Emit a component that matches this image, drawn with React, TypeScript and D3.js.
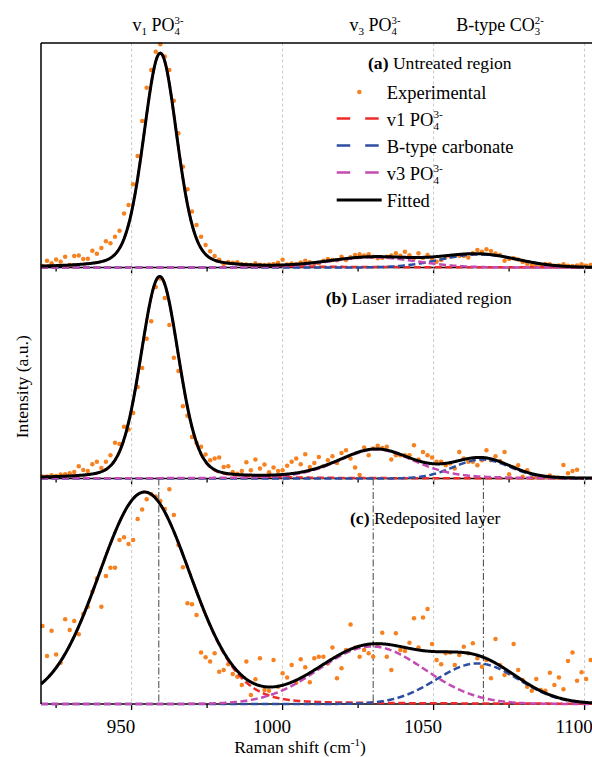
import React from 'react';
import * as d3 from 'd3';

// ---------- DATA ----------
// Raman shift grid of the experimental spectra (cm^-1)
const WAVE_START = 920.5;
const WAVE_STEP = 1.5;

const xTicks = [925, 950, 975, 1000, 1025, 1050, 1075, 1100];
const xTickLabels = [950, 1000, 1050, 1100];
const markerLines = [959, 1030, 1066.5];

// Experimental intensities (a.u., 0-100 of each panel)
const expA = [
  0.7, 3.0, 1.9, 3.6, 2.6, 4.8, 1.1, 5.1, 5.4, 3.8, 3.9, 7.5, 6.1, 8.7, 11.7, 10.8, 13.7, 16.4, 24.1, 27.8,
  37.1, 49.7, 65.3, 80.1, 88.0, 96.1, 99.4, 94.0, 88.0, 74.3, 59.8, 44.9, 34.8, 24.9, 18.9, 13.7, 10.0, 7.2, 5.1, 3.4,
  1.6, 2.5, 2.1, 2.3, 1.5, 1.3, 1.1, 1.9, 1.2, 1.1, 1.3, 1.6, 2.1, 3.4, 1.3, 1.8, 1.5, 2.2, 3.0, 2.3,
  1.8, 1.9, 3.0, 3.8, 3.3, 3.2, 4.8, 3.3, 4.6, 5.6, 5.9, 5.4, 5.9, 4.8, 4.1, 4.3, 4.8, 5.3, 6.3, 5.2,
  7.0, 5.5, 4.1, 6.3, 4.2, 5.6, 4.0, 2.6, 3.3, 4.8, 5.0, 5.1, 5.2, 5.1, 4.5, 6.3, 7.8, 7.0, 8.1, 7.3,
  6.2, 5.6, 3.0, 3.8, 4.1, 3.6, 2.4, 1.6, 1.2, 1.0, 0.9, 1.6, 1.4, 0.8, 0.9, 1.4, 0.8, 0.7, 0.9, 1.4,
  0.8, 1.1,
];
const expB = [
  1.0, 1.0, 1.5, 1.2, 1.9, 2.0, 2.5, 3.1, 5.8, 4.0, 3.6, 6.8, 7.9, 5.0, 7.9, 11.0, 16.9, 16.3, 24.5, 23.2,
  31.1, 43.4, 52.4, 66.2, 74.5, 90.8, 94.8, 85.6, 72.7, 57.2, 50.9, 34.3, 29.7, 19.7, 17.0, 15.0, 11.4, 8.7, 9.5, 10.0,
  5.5, 5.8, 3.1, 2.2, 3.5, 7.7, 3.9, 9.0, 4.7, 6.6, 3.0, 5.2, 3.6, 3.9, 6.0, 7.9, 9.5, 6.8, 11.5, 5.5,
  7.4, 10.2, 5.8, 8.7, 10.6, 7.4, 12.1, 13.4, 9.5, 5.2, 1.6, 14.7, 11.0, 14.2, 15.5, 14.5, 15.0, 9.0, 11.0, 11.0,
  11.0, 11.0, 15.8, 9.0, 12.6, 11.0, 10.0, 7.9, 7.9, 6.3, 7.1, 4.7, 12.6, 9.5, 7.9, 7.9, 6.3, 8.7, 13.4, 8.7,
  10.6, 8.3, 12.6, 2.0, 5.2, 6.3, 0.8, 3.9, 0.3, 0.6, 0.8, 0.6, 1.4, 0.5, 0.4, 6.4, 2.5, 3.5, 4.1,
];
const expC = [
  34.6, 21.3, 32.5, 22.0, 18.3, 37.6, 32.8, 36.8, 30.9, 39.9, 43.1, 49.8, 55.7, 43.1, 56.8, 60.4, 60.4, 72.7, 73.9, 71.0,
  72.7, 82.0, 86.3, 90.8, 93.0, 92.0, 90.0, 86.5, 95.2, 83.8, 70.5, 60.6, 44.7, 44.2, 39.5, 22.8, 20.7, 18.8, 22.5, 14.3,
  15.1, 17.6, 13.3, 12.1, 8.4, 18.8, 4.0, 11.0, 20.3, 6.2, 5.9, 19.5, 7.7, 13.6, 11.7, 17.3, 9.4, 19.8, 16.3, 9.6,
  20.3, 21.0, 21.0, 18.0, 25.1, 11.4, 15.8, 23.9, 35.3, 25.0, 21.0, 23.9, 22.5, 21.0, 26.5, 31.6, 21.0, 15.1, 31.4, 23.9,
  23.5, 27.2, 38.0, 25.1, 38.4, 42.1, 26.6, 19.5, 17.6, 22.5, 22.8, 17.3, 21.7, 25.4, 22.5, 26.9, 20.3, 16.5, 19.5, 11.4,
  28.8, 17.3, 12.9, 13.6, 26.6, 15.1, 10.6, 7.7, 5.9, 11.1, 6.2, 5.9, 13.9, 8.4, 11.7, 6.5, 19.1, 22.8, 10.3, 14.1,
  11.1, 19.5,
];

// Fitted components, order: v1 PO4, B-type carbonate, v3 PO4
const centersA = [959.5, 1065, 1030];
const heightsA = [95.5, 5.8, 4.5];
const fwhmA = [13.2, 30, 34];
const lorentzA = [0.25, 0, 0];

const centersB = [959.3, 1066, 1031];
const heightsB = [95.6, 9, 13.8];
const fwhmB = [14.8, 22, 30];
const lorentzB = [0.2, 0, 0.3];

const centersC = [954.3, 1064.5, 1029.5];
const heightsC = [94, 18, 25.5];
const fwhmC = [36, 32, 41];
const lorentzC = [0.1, 0, 0];

// ---------- STYLE / LAYOUT ----------
const FONT = '"Liberation Serif", "Times New Roman", Times, serif';
const W = 592;
const H = 757;
const LEFT = 41;
const RIGHT = 599.7;
const panelTops = [43, 267.5, 478.5];
const panelBottoms = [267.5, 478.5, 704];
const ORANGE = '#f7811f';
const compColors = ['#ee2b2b', '#2e4ea3', '#c34bb1'];

function pseudoVoigt(v: number, c: number, h: number, w: number, eta: number) {
  const d = (v - c) / w;
  const g = Math.exp(-4 * Math.LN2 * d * d);
  const l = 1 / (1 + 4 * d * d);
  return h * ((1 - eta) * g + eta * l);
}

const panels = [
  { key: 'a', exp: expA, c: centersA, h: heightsA, w: fwhmA, e: lorentzA },
  { key: 'b', exp: expB, c: centersB, h: heightsB, w: fwhmB, e: lorentzB },
  { key: 'c', exp: expC, c: centersC, h: heightsC, w: fwhmC, e: lorentzC },
];

const x = d3.scaleLinear().domain([920, 1105]).range([LEFT, RIGHT]);

function Stacked({ sub, sup, size }: { sub: string; sup: string; size: number }) {
  const s = size * 0.6;
  const wSub = s * 0.5 * sub.length;
  return (
    <>
      <tspan fontSize={s} dy={size * 0.22}>{sub}</tspan>
      <tspan fontSize={s} dx={-wSub} dy={-size * 0.6}>{sup}</tspan>
    </>
  );
}

function Panel({ idx }: { idx: number }) {
  const p = panels[idx];
  const top = panelTops[idx];
  const bottom = panelBottoms[idx];
  const y = d3.scaleLinear().domain([0, 100]).range([bottom, top]);
  const samples = d3.range(920, 1105.01, 0.25);
  const comps = [0, 1, 2].map((k) =>
    samples.map((v) => [v, pseudoVoigt(v, p.c[k], p.h[k], p.w[k], p.e[k])] as [number, number])
  );
  const fitted = samples.map((v, i) => [v, comps[0][i][1] + comps[1][i][1] + comps[2][i][1]] as [number, number]);
  const line = d3
    .line<[number, number]>()
    .x((d) => x(d[0]))
    .y((d) => y(d[1]));
  const clipId = `clip-${p.key}`;
  return (
    <g>
      <defs>
        <clipPath id={clipId}>
          <rect x={LEFT} y={top} width={RIGHT - LEFT} height={bottom - top + 3} />
        </clipPath>
      </defs>
      {xTickLabels.map((v) => (
        <line key={v} x1={x(v)} x2={x(v)} y1={top} y2={bottom} stroke="#c9c9c9" strokeWidth={1} strokeDasharray="3,2.5" />
      ))}
      {idx === 2 &&
        markerLines.map((v) => (
          <line key={v} x1={x(v)} x2={x(v)} y1={top} y2={bottom} stroke="#555" strokeWidth={1.1} strokeDasharray="7,2.5,1.5,2.5" />
        ))}
      {/* frame bottom and ticks */}
      <line x1={LEFT} x2={RIGHT} y1={bottom} y2={bottom} stroke="#000" strokeWidth={1.5} />
      {xTicks.map((v) => (
        <line key={v} x1={x(v)} x2={x(v)} y1={bottom} y2={bottom + (v % 50 === 0 ? 6 : 4)} stroke="#000" strokeWidth={1.3} />
      ))}
      {/* experimental */}
      {p.exp.map((val, i) => (
        <circle key={i} cx={x(WAVE_START + WAVE_STEP * i)} cy={y(val)} r={2.25} fill={ORANGE} />
      ))}
      <g clipPath={`url(#${clipId})`}>
        {comps.map((cd, k) => (
          <path key={k} d={line(cd) || ''} fill="none" stroke={compColors[k]} strokeWidth={2.5} strokeDasharray="7,3.5" />
        ))}
        <path d={line(fitted) || ''} fill="none" stroke="#000" strokeWidth={3} strokeLinejoin="round" />
      </g>
    </g>
  );
}

export default function App() {
  const legendRows = [98.5, 125.5, 152.5, 179.5, 206.5];
  const legX0 = 336.7;
  const legTextX = 386.7;
  const legFont = 18.5;
  const labFont = 17.6;
  return (
    <svg width={W} height={H} style={{ position: 'absolute', left: 0, top: 0, background: '#fff' }} fontFamily={FONT}>
      <rect x={0} y={0} width={W} height={H} fill="#fff" />
      {[0, 1, 2].map((i) => (
        <Panel key={i} idx={i} />
      ))}
      {/* outer frame */}
      <line x1={LEFT} x2={RIGHT} y1={43} y2={43} stroke="#000" strokeWidth={1.5} />
      <line x1={LEFT} x2={LEFT} y1={43} y2={704} stroke="#000" strokeWidth={1.5} />

      {/* top band labels */}
      <text x={158} y={31} textAnchor="middle" fontSize={18}>
        v<tspan fontSize={11} dy={4}>1</tspan>
        <tspan dy={-4}> PO</tspan>
        <Stacked sub="4" sup="3-" size={18} />
      </text>
      <text x={375} y={31} textAnchor="middle" fontSize={18}>
        v<tspan fontSize={11} dy={4}>3</tspan>
        <tspan dy={-4}> PO</tspan>
        <Stacked sub="4" sup="3-" size={18} />
      </text>
      <text x={500} y={31} textAnchor="middle" fontSize={18}>
        B-type CO
        <Stacked sub="3" sup="2-" size={18} />
      </text>

      {/* panel labels */}
      <text x={368} y={69} fontSize={labFont}>
        <tspan fontWeight="bold">(a)</tspan> Untreated region
      </text>
      <text x={325.7} y={303.5} fontSize={labFont}>
        <tspan fontWeight="bold">(b)</tspan> Laser irradiated region
      </text>
      <text x={350} y={523.5} fontSize={labFont}>
        <tspan fontWeight="bold">(c)</tspan> Redeposited layer
      </text>

      {/* legend */}
      <circle cx={359.3} cy={legendRows[0] - 6.5} r={2.25} fill={ORANGE} />
      {[0, 1, 2].map((k) => (
        <line
          key={k}
          x1={legX0}
          x2={378.7}
          y1={legendRows[k + 1] - 7}
          y2={legendRows[k + 1] - 7}
          stroke={compColors[[0, 1, 2][k]]}
          strokeWidth={2.5}
          strokeDasharray="13.5,15"
        />
      ))}
      <line x1={legX0} x2={381.7} y1={legendRows[4] - 6.5} y2={legendRows[4] - 6.5} stroke="#000" strokeWidth={3} />
      <text x={legTextX} y={legendRows[0]} fontSize={legFont}>Experimental</text>
      <text x={legTextX} y={legendRows[1]} fontSize={legFont}>
        v1 PO
        <Stacked sub="4" sup="3-" size={legFont} />
      </text>
      <text x={legTextX} y={legendRows[2]} fontSize={legFont}>B-type carbonate</text>
      <text x={legTextX} y={legendRows[3]} fontSize={legFont}>
        v3 PO
        <Stacked sub="4" sup="3-" size={legFont} />
      </text>
      <text x={legTextX} y={legendRows[4]} fontSize={legFont}>Fitted</text>

      {/* x tick labels */}
      {xTickLabels.map((v) => (
        <text key={v} x={x(v) - 10.5} y={732.5} textAnchor="middle" fontSize={19}>
          {v}
        </text>
      ))}
      <text x={300} y={753} textAnchor="middle" fontSize={17.5}>
        Raman shift (cm<tspan fontSize={11} dy={-7}>-1</tspan>
        <tspan dy={7}>)</tspan>
      </text>
      <text transform="translate(28,386.7) rotate(-90)" textAnchor="middle" fontSize={17.6}>
        Intensity (a.u.)
      </text>
    </svg>
  );
}
